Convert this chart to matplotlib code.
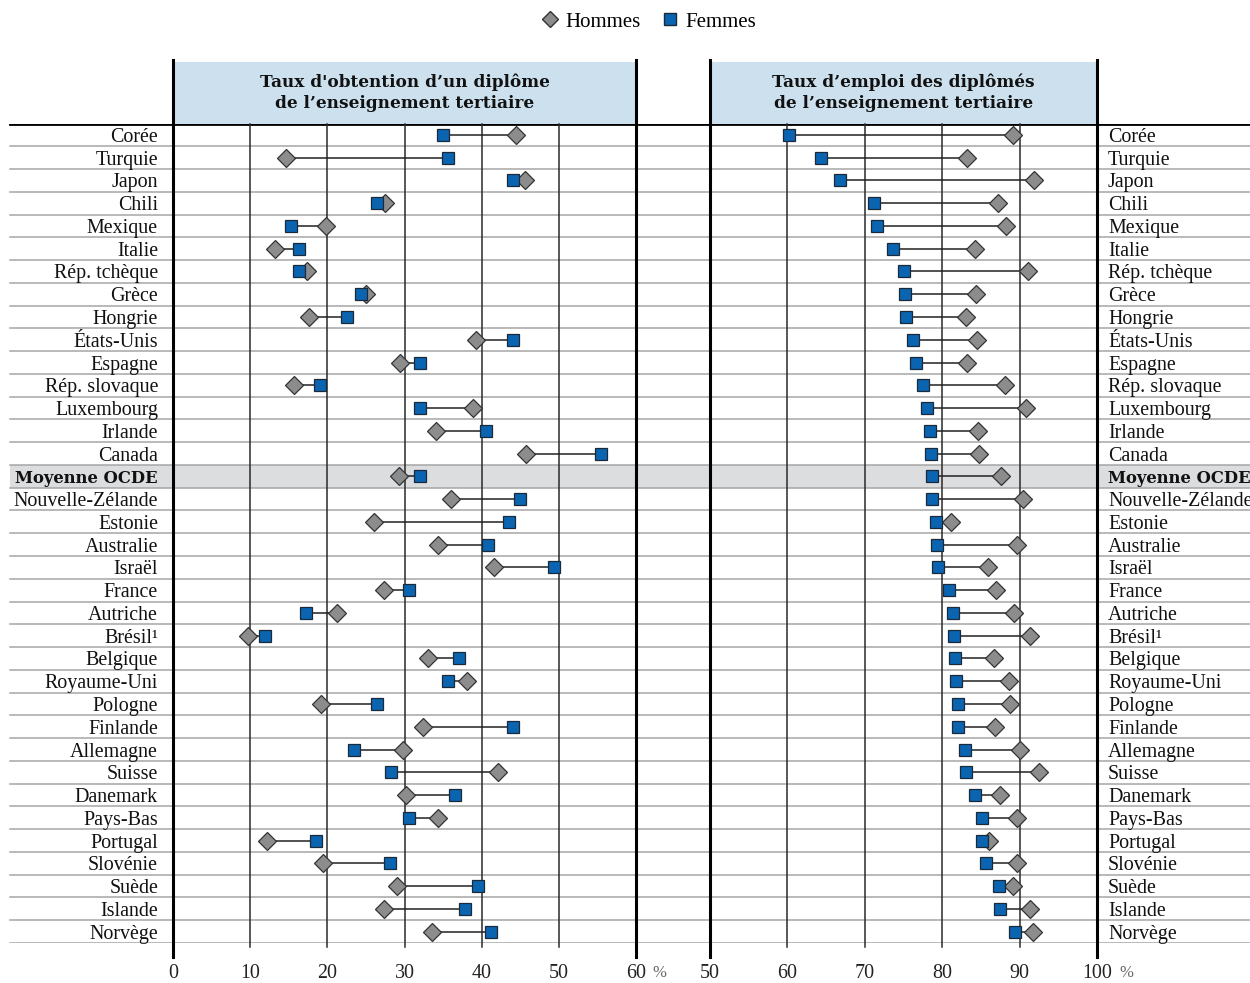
import matplotlib
matplotlib.use("Agg")
import matplotlib.pyplot as plt
from matplotlib.lines import Line2D
from matplotlib.patches import Rectangle

countries = ["Corée", "Turquie", "Japon", "Chili", "Mexique", "Italie", "Rép. tchèque",
             "Grèce", "Hongrie", "États-Unis", "Espagne", "Rép. slovaque", "Luxembourg",
             "Irlande", "Canada", "Moyenne OCDE", "Nouvelle-Zélande", "Estonie", "Australie",
             "Israël", "France", "Autriche", "Brésil¹", "Belgique", "Royaume-Uni", "Pologne",
             "Finlande", "Allemagne", "Suisse", "Danemark", "Pays-Bas", "Portugal",
             "Slovénie", "Suède", "Islande", "Norvège"]

# Graduation rates (%)
grad_men = [44.5, 14.7, 45.6, 27.5, 19.8, 13.2, 17.4, 25.0, 17.6, 39.3, 29.4, 15.7, 38.9,
            34.1, 45.8, 29.3, 36.0, 26.1, 34.4, 41.6, 27.3, 21.3, 9.7, 33.0, 38.1, 19.2,
            32.4, 29.8, 42.1, 30.2, 34.3, 12.2, 19.4, 29.0, 27.4, 33.6]
grad_women = [35.0, 35.6, 44.1, 26.4, 15.3, 16.3, 16.3, 24.4, 22.5, 44.0, 32.0, 19.0, 32.0,
              40.5, 55.4, 32.0, 45.0, 43.5, 40.8, 49.4, 30.6, 17.3, 11.9, 37.0, 35.6, 26.4,
              44.0, 23.4, 28.2, 36.5, 30.6, 18.5, 28.1, 39.5, 37.8, 41.2]

# Employment rates (%)
emp_men = [89.1, 83.2, 91.9, 87.2, 88.2, 84.2, 91.1, 84.4, 83.1, 84.5, 83.2, 88.1, 90.8,
           84.6, 84.8, 87.6, 90.5, 81.1, 89.7, 85.9, 86.9, 89.3, 91.3, 86.7, 88.6, 88.8,
           86.8, 90.1, 92.5, 87.5, 89.7, 86.1, 89.6, 89.2, 91.3, 91.7]
emp_women = [60.2, 64.4, 66.8, 71.2, 71.6, 73.6, 75.1, 75.2, 75.3, 76.2, 76.6, 77.5, 78.0,
             78.4, 78.6, 78.7, 78.7, 79.2, 79.3, 79.5, 80.9, 81.4, 81.5, 81.6, 81.8, 82.0,
             82.1, 82.9, 83.1, 84.3, 85.1, 85.1, 85.7, 87.4, 87.5, 89.4]

left_ticks = [0, 10, 20, 30, 40, 50, 60]
right_ticks = [50, 60, 70, 80, 90, 100]
title_left = "Taux d'obtention d’un diplôme\nde l’enseignement tertiaire"
title_right = "Taux d’emploi des diplômés\nde l’enseignement tertiaire"
legend_labels = ["Hommes", "Femmes"]
highlight = "Moyenne OCDE"

BLUE = "#0a64b0"
GREY = "#8c8c8c"
HEAD = "#cce0ee"
SERIF = ["Liberation Serif", "DejaVu Serif"]
BOLD = ["DejaVu Serif"]

W, H = 1250, 983
fig = plt.figure(figsize=(W / 100, H / 100), dpi=100)

top_px, bot_px = 123.5, 943.0
ax_bottom = 1 - bot_px / H
ax_height = (bot_px - top_px) / H
ax_h_px = bot_px - top_px
n = len(countries)
ys = list(range(n))
hi = countries.index(highlight)

# background axes (row lines, labels)
bg = fig.add_axes([0, ax_bottom, 1, ax_height])
bg.set_xlim(0, 1)
bg.set_ylim(n - 0.5, -0.5)
bg.axis("off")
x0 = 10 / W
bg.axhspan(hi - 0.5, hi + 0.5, xmin=x0, xmax=1, color="#dcdddf", zorder=0, lw=0)
for i in range(1, n + 1):
    bg.plot([x0, 1], [i - 0.5, i - 0.5], color="#a6a6a6", lw=1.1, zorder=1)
bg.plot([x0, 1], [-0.5, -0.5], color="black", lw=2.0, zorder=3)

for i, c in enumerate(countries):
    if c == highlight:
        kw = dict(family=BOLD, fontweight="bold", fontsize=11.8)
    else:
        kw = dict(family=SERIF, fontsize=14.4)
    bg.text(158 / W, i, c, ha="right", va="center_baseline", color="#111111", **kw)
    bg.text(1108 / W, i, c, ha="left", va="center_baseline", color="#111111", **kw)


def panel(rect, men, women, xlim, ticks, title, pct_dx):
    ax = fig.add_axes(rect)
    ax.set_facecolor("none")
    ax.set_xlim(*xlim)
    ax.set_ylim(n - 0.5, -0.5)
    for s in ax.spines.values():
        s.set_visible(False)
    ax.set_yticks([])
    ax.set_xticks(ticks)
    ax.set_xticklabels([str(t) for t in ticks], fontsize=14.4, family=SERIF, color="#222222")
    ax.tick_params(axis="x", length=0, pad=15)
    ext_top = 1 + 63.5 / ax_h_px
    for t in ticks:
        if t in (xlim[0], xlim[1]):
            ax.axvline(t, ymin=-14 / ax_h_px, ymax=ext_top, color="black", lw=2.2,
                       clip_on=False, zorder=4)
        else:
            ax.axvline(t, ymin=-4 / ax_h_px, ymax=1, color="#2a2a2a", lw=1.1,
                       clip_on=False, zorder=1)
    ax.add_patch(Rectangle((0, 1), 1, 62 / ax_h_px, transform=ax.transAxes,
                           facecolor=HEAD, edgecolor="none", clip_on=False, zorder=0))
    ax.text(0.5, 1 + 31 / ax_h_px, title, transform=ax.transAxes, ha="center",
            va="center", family=BOLD, fontweight="bold", fontsize=12.2,
            linespacing=1.3, color="#111111")
    for y, m, w in zip(ys, men, women):
        ax.plot([min(m, w), max(m, w)], [y, y], color="#222222", lw=1.1, zorder=2)
    ax.plot(men, ys, "D", ms=8.8, mfc=GREY, mec="#333333", mew=0.9, ls="none",
            zorder=3, clip_on=False)
    ax.plot(women, ys, "s", ms=8.2, mfc=BLUE, mec="#1a2a3a", mew=0.9, ls="none",
            zorder=4, clip_on=False)
    ax.annotate("%", xy=(1, 0), xycoords="axes fraction", xytext=(pct_dx, -21.5),
                textcoords="offset points", ha="center", va="center",
                fontsize=12, family=SERIF, color="#666666")
    return ax


panel([173 / W, ax_bottom, (636 - 173) / W, ax_height], grad_men, grad_women,
      (0, 60), left_ticks, title_left, 16.5)
panel([710 / W, ax_bottom, (1097 - 710) / W, ax_height], emp_men, emp_women,
      (50, 100), right_ticks, title_right, 21.0)

handles = [Line2D([], [], marker="D", ms=8.5, mfc=GREY, mec="#333333", ls="none"),
           Line2D([], [], marker="s", ms=8, mfc=BLUE, mec="#1a2a3a", ls="none")]
fig.legend(handles, legend_labels, loc="center", bbox_to_anchor=(649 / W, 1 - 22 / H),
           ncol=2, frameon=False, handlelength=0.8, handletextpad=0.35,
           columnspacing=1.0, prop={"family": SERIF, "size": 15})

fig.savefig("out.png", dpi=100)
